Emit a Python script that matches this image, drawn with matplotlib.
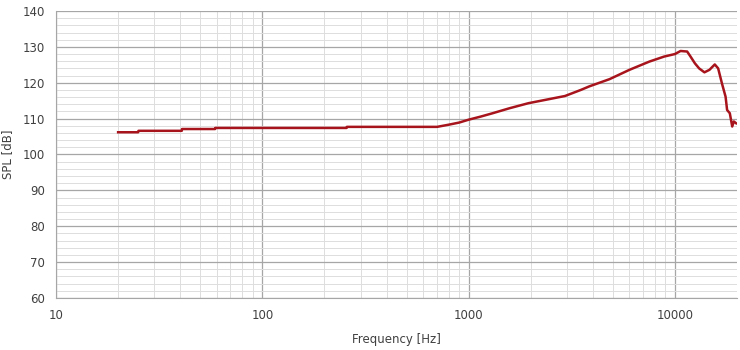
import matplotlib
matplotlib.use("Agg")
from matplotlib import pyplot as plt
from matplotlib.ticker import FixedLocator, NullFormatter, MultipleLocator
import numpy as np

freq = [20, 25, 25.1, 40.7, 40.8, 59, 59.2, 256, 257, 703, 800, 900, 1000, 1150,
        1307, 1580, 1950, 2440, 2930, 3500, 3850, 4820, 6020, 7520, 8870, 10000,
        10650, 11460, 11900, 12500, 13100, 13900, 14700, 15600, 16200, 16900,
        17600, 17900, 18450, 18950, 19300, 19800]
spl = [106.2, 106.2, 106.6, 106.6, 107.1, 107.1, 107.4, 107.4, 107.7, 107.7,
       108.3, 108.9, 109.7, 110.6, 111.5, 112.9, 114.3, 115.4, 116.3, 118.0,
       119.0, 121.0, 123.6, 125.9, 127.3, 128.0, 128.85, 128.7, 127.3, 125.4,
       124.0, 122.9, 123.6, 125.1, 124.0, 119.8, 116.1, 112.4, 111.5, 107.8,
       109.2, 108.7]

x_ticks = [10, 100, 1000, 10000]
y_ticks = [60, 70, 80, 90, 100, 110, 120, 130, 140]

fig = plt.figure(figsize=(7.4, 3.5), dpi=100)
ax = fig.add_axes([0.0757, 0.1486, 0.9203, 0.82])

ax.plot(freq, spl, color="#A8141C", linewidth=1.8)

ax.set_xscale("log")
ax.set_xlim(10, 20000)
ax.set_ylim(60, 140)

ax.xaxis.set_major_locator(FixedLocator(x_ticks))
ax.set_xticklabels([str(t) for t in x_ticks])
minors = [m * 10 ** d for d in range(1, 5) for m in range(2, 10) if m * 10 ** d <= 20000]
ax.xaxis.set_minor_locator(FixedLocator(minors))
ax.xaxis.set_minor_formatter(NullFormatter())
ax.yaxis.set_major_locator(FixedLocator(y_ticks))
ax.yaxis.set_minor_locator(MultipleLocator(2))

ax.grid(which="major", color="#A6A6A6", linewidth=0.9)
ax.grid(which="minor", color="#DDDDDD", linewidth=0.7)
ax.set_axisbelow(True)

ax.tick_params(which="both", length=0, labelsize=8.5, colors="#404040", pad=8)
for s in ["top", "right"]:
    ax.spines[s].set_visible(False)
for s in ["left", "bottom"]:
    ax.spines[s].set_color("#A6A6A6")

ax.set_xlabel("Frequency [Hz]", fontsize=8.5, color="#404040", labelpad=8)
ax.set_ylabel("SPL [dB]", fontsize=8.5, color="#404040", labelpad=6)

fig.savefig("out.png", dpi=100)
